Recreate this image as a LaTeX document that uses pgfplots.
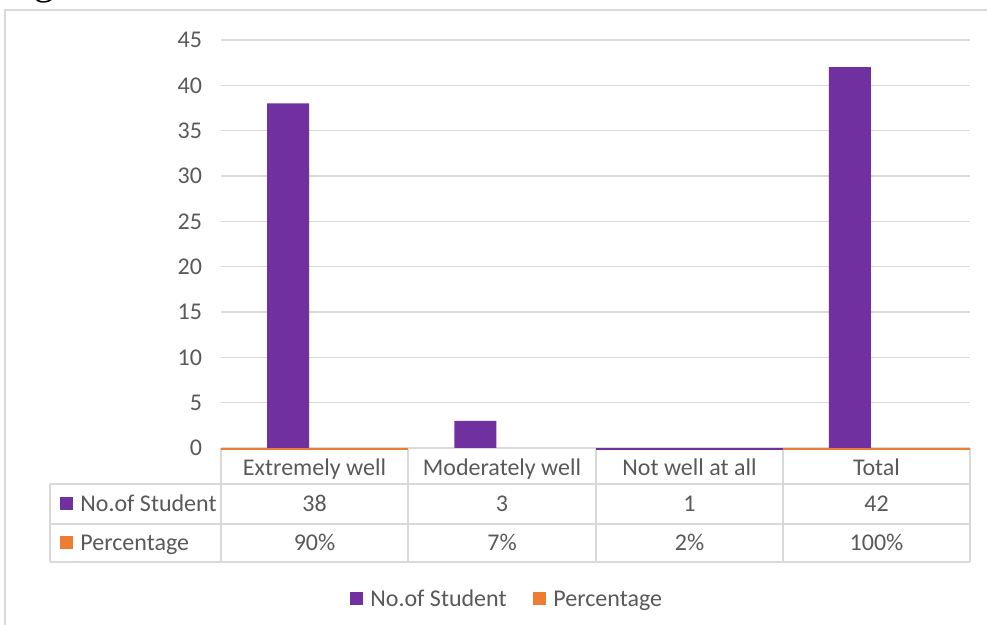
\documentclass[border=0pt]{standalone}
\usepackage{pgfplots}
\pgfplotsset{compat=1.18}
\usepackage{fontspec}
\setmainfont{Carlito}
\newfontfamily\seriffont{Liberation Serif}
\definecolor{purp}{RGB}{112,48,160}
\definecolor{orng}{RGB}{237,125,49}
\definecolor{txt}{RGB}{89,89,89}
\definecolor{gridc}{RGB}{217,217,217}
\newcommand\f{\fontsize{12}{14}\selectfont}

\begin{document}
\begin{tikzpicture}
% picture drawn in pixel units of the reference (1px = 0.5pt, y downwards)
\begin{scope}[x=0.5pt,y=-0.5pt]
  \useasboundingbox (0,0) rectangle (987,625);
  \draw[gridc, line width=0.8pt] (5,640) -- (5,10) -- (1000,10);
  \node[anchor=base west, inner sep=0pt, font=\seriffont\fontsize{20}{20}\selectfont] at (34,-5) {g};

  % data table
  \begin{scope}[gridc, line width=0.75pt]
    \draw (221,448) -- (970,448);
    \draw (50,484) -- (970,484);
    \draw (50,524) -- (970,524);
    \draw (50,562) -- (970,562);
    \draw (50,484) -- (50,562);
    \foreach \x in {221,408,596,783,970} \draw (\x,448) -- (\x,562);
  \end{scope}
  \begin{scope}[every node/.style={text=txt, font=\f, inner sep=0pt, anchor=base}]
    \node at (314.5,476) {Extremely well};
    \node at (502,476) {Moderately well};
    \node at (689.5,476) {Not well at all};
    \node at (876.5,476) {Total};
    \node at (314.5,512) {38};
    \node at (502,512) {3};
    \node at (689.5,512) {1};
    \node at (876.5,512) {42};
    \node at (314.5,551) {90\%};
    \node at (502,551) {7\%};
    \node at (689.5,551) {2\%};
    \node at (876.5,551) {100\%};
    \fill[purp] (60,497) rectangle (73,510);
    \node[anchor=base west] at (80,512) {No.of Student};
    \fill[orng] (60,536) rectangle (73,549);
    \node[anchor=base west] at (80,551) {Percentage};
    % legend
    \fill[purp] (350,592) rectangle (363,605);
    \node[anchor=base west] at (370,607) {No.of Student};
    \fill[orng] (533,592) rectangle (546,605);
    \node[anchor=base west] at (553,607) {Percentage};
  \end{scope}
\end{scope}

\begin{axis}[
  at={(110.5pt,-224pt)}, anchor=south west,
  scale only axis, width=374.5pt, height=204pt,
  xmin=-0.5, xmax=3.5, ymin=0, ymax=45,
  ytick={0,5,...,45}, xtick=\empty,
  axis line style={draw=none}, major tick length=0pt,
  ymajorgrids, grid style={gridc, line width=0.75pt},
  yticklabel style={text=txt, font=\f, xshift=-6pt},
  /pgf/number format/assume math mode=true,
  clip=false,
]
  % No.of Student
  \addplot[ybar, bar width=21pt, bar shift=-13.3pt, fill=purp, draw=none]
    coordinates {(0,38) (1,3) (3,42)};
  % flat segments drawn along the base of the plot
  \addplot[purp, line width=1pt] coordinates {(1.5,-0.1) (2.5,-0.1)};
  \addplot[orng, line width=1pt] coordinates {(-0.5,-0.1) (0.5,-0.1)};
  \addplot[orng, line width=1pt] coordinates {(2.5,-0.1) (3.5,-0.1)};
\end{axis}
\end{tikzpicture}
\end{document}
